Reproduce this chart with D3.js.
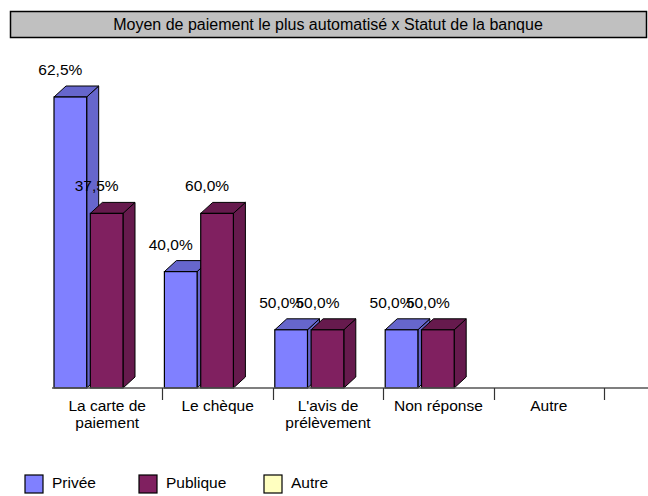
<!DOCTYPE html>
<html>
<head>
<meta charset="utf-8">
<script src="https://cdn.jsdelivr.net/npm/d3@7"></script>
<style>
  body { margin: 0; background: #fff; }
  text { font-family: "Liberation Sans", Arial, sans-serif; }
</style>
</head>
<body>
<svg id="canvas" width="648" height="496"></svg>
<script>
let title = 'Moyen de paiement le plus automatisé x Statut de la banque';
let categories = ['La carte de paiement', 'Le chèque', "L'avis de prélèvement", 'Non réponse', 'Autre'];
let categoryLines = [['La carte de', 'paiement'], ['Le chèque'], ["L'avis de", 'prélèvement'], ['Non réponse'], ['Autre']];
let series = ['Privée', 'Publique', 'Autre'];
// counts per category (bar heights) and the row percentages printed on the bars
let priveeCounts = [5, 2, 1, 1, 0];
let publiqueCounts = [3, 3, 1, 1, 0];
let autreCounts = [0, 0, 0, 0, 0];
let priveeLabels = ['62,5%', '40,0%', '50,0%', '50,0%', ''];
let publiqueLabels = ['37,5%', '60,0%', '50,0%', '50,0%', ''];
let autreLabels = ['', '', '', '', ''];

let colors = {
    'Privée': {front: '#8080ff', side: '#6666cc'},
    'Publique': {front: '#802060', side: '#661a4d'},
    'Autre': {front: '#ffffc0', side: '#cccc99'}
};

let counts = [priveeCounts, publiqueCounts, autreCounts];
let labels = [priveeLabels, publiqueLabels, autreLabels];

let canvas = d3.select('#canvas');

let depthX = 12;
let depthY = 11;
let baseY = 388;
let fontSize = 15.5;

let xScale = d3.scaleBand()
    .domain(categories)
    .range([52, 604]);

let subScale = d3.scaleBand()
    .domain(['Privée', 'Publique'])
    .range([2, 71])
    .paddingInner(0.1);

let yScale = d3.scaleLinear()
    .domain([0, 5])
    .range([baseY, 97]);

// title box
canvas.append('rect')
    .attr('x', 10.5).attr('y', 11.5)
    .attr('width', 636).attr('height', 26)
    .attr('fill', '#c0c0c0')
    .attr('stroke', '#000')
    .attr('stroke-width', 1.5);

canvas.append('text')
    .attr('x', 328).attr('y', 30)
    .attr('text-anchor', 'middle')
    .attr('font-size', 16)
    .text(title);

// bars
let bars = [];
categories.forEach((cat, i) => {
    series.forEach((s, j) => {
        if (counts[j][i] > 0) {
            bars.push({cat: cat, series: s, value: counts[j][i], label: labels[j][i]});
        }
    });
});

let barGroups = canvas.selectAll('g.bar')
    .data(bars)
    .enter()
    .append('g')
    .attr('class', 'bar');

barGroups.each(function(d) {
    let g = d3.select(this);
    let x0 = xScale(d.cat) + subScale(d.series);
    let w = subScale.bandwidth();
    let yTop = yScale(d.value);
    let c = colors[d.series];

    // side face
    g.append('path')
        .attr('d', 'M' + (x0 + w) + ',' + yTop +
            'L' + (x0 + w + depthX) + ',' + (yTop - depthY) +
            'L' + (x0 + w + depthX) + ',' + (baseY - depthY) +
            'L' + (x0 + w) + ',' + baseY + 'Z')
        .attr('fill', c.side)
        .attr('stroke', '#000')
        .attr('stroke-width', 1)
        .attr('stroke-linejoin', 'round');

    // top face
    g.append('path')
        .attr('d', 'M' + x0 + ',' + yTop +
            'L' + (x0 + depthX) + ',' + (yTop - depthY) +
            'L' + (x0 + w + depthX) + ',' + (yTop - depthY) +
            'L' + (x0 + w) + ',' + yTop + 'Z')
        .attr('fill', c.side)
        .attr('stroke', '#000')
        .attr('stroke-width', 1)
        .attr('stroke-linejoin', 'round');

    // front face
    g.append('rect')
        .attr('x', x0).attr('y', yTop)
        .attr('width', w).attr('height', baseY - yTop)
        .attr('fill', c.front)
        .attr('stroke', '#000')
        .attr('stroke-width', 1.2);
});

// axis
canvas.append('line')
    .attr('x1', 52).attr('x2', 648)
    .attr('y1', baseY).attr('y2', baseY)
    .attr('stroke', '#555')
    .attr('stroke-width', 1.5);

canvas.selectAll('line.tick')
    .data(categories)
    .enter()
    .append('line')
    .attr('class', 'tick')
    .attr('x1', (d) => Math.round(xScale(d) + xScale.bandwidth()) + 0.5)
    .attr('x2', (d) => Math.round(xScale(d) + xScale.bandwidth()) + 0.5)
    .attr('y1', baseY)
    .attr('y2', baseY + 12)
    .attr('stroke', '#333')
    .attr('stroke-width', 1.2);

// category labels
categories.forEach((cat, i) => {
    let t = canvas.append('text')
        .attr('x', xScale(cat) + xScale.bandwidth() / 2)
        .attr('y', 411)
        .attr('text-anchor', 'middle')
        .attr('font-size', fontSize);
    categoryLines[i].forEach((line, k) => {
        t.append('tspan')
            .attr('x', xScale(cat) + xScale.bandwidth() / 2)
            .attr('dy', k === 0 ? 0 : 17)
            .text(line);
    });
});

// value labels
barGroups.append('text')
    .attr('x', (d) => xScale(d.cat) + subScale(d.series) + subScale.bandwidth() / 2 - 10)
    .attr('y', (d) => yScale(d.value) - depthY - 11)
    .attr('text-anchor', 'middle')
    .attr('font-size', fontSize)
    .text((d) => d.label);

// legend
let legendX = [25, 139, 264];
let legend = canvas.selectAll('g.legend')
    .data(series)
    .enter()
    .append('g')
    .attr('class', 'legend')
    .attr('transform', (d, i) => 'translate(' + legendX[i] + ',475)');

legend.append('rect')
    .attr('width', 18).attr('height', 18)
    .attr('fill', (d) => colors[d].front)
    .attr('stroke', '#000')
    .attr('stroke-width', 1.2);

legend.append('text')
    .attr('x', 27).attr('y', 13)
    .attr('font-size', fontSize)
    .text((d) => d);
</script>
</body>
</html>
